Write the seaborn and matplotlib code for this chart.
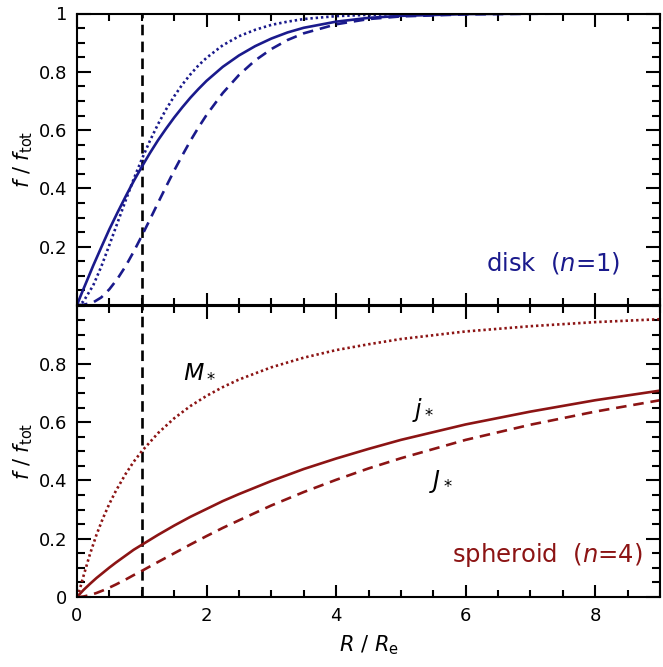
import matplotlib
matplotlib.use("Agg")
import matplotlib.pyplot as plt
import seaborn as sns
import pandas as pd
from matplotlib.ticker import MultipleLocator

# Cumulative fractions inside radius R / R_e for an exponential disk (n = 1)
radius_disk = [0, 0.05, 0.1, 0.25, 0.375, 0.5, 0.625, 0.75, 0.875, 1,
               1.125, 1.25, 1.375, 1.5, 1.625, 1.75, 1.875, 2,
               2.25, 2.5, 2.75, 3, 3.25, 3.5, 4, 4.5, 5, 6, 7, 8, 9]
mass_disk = [0, 0.0033, 0.0126, 0.067, 0.132, 0.206, 0.282, 0.358, 0.432, 0.500,
             0.563, 0.620, 0.671, 0.716, 0.756, 0.791, 0.822, 0.848,
             0.891, 0.922, 0.944, 0.961, 0.972, 0.981, 0.991, 0.9955, 0.998, 0.9995, 1.0, 1.0, 1.0]
spec_am_disk = [0, 0.028, 0.055, 0.135, 0.198, 0.260, 0.317, 0.372, 0.425, 0.474,
                0.521, 0.565, 0.605, 0.643, 0.678, 0.711, 0.741, 0.769,
                0.817, 0.856, 0.888, 0.914, 0.935, 0.951, 0.972, 0.985, 0.992, 0.998, 0.9995, 1.0, 1.0]
tot_am_disk = [0, 0.0001, 0.0007, 0.009, 0.026, 0.054, 0.090, 0.133, 0.183, 0.237,
               0.293, 0.350, 0.406, 0.461, 0.513, 0.563, 0.609, 0.652,
               0.727, 0.789, 0.839, 0.878, 0.909, 0.932, 0.963, 0.981, 0.990, 0.997, 0.999, 1.0, 1.0]

# Same quantities for a de Vaucouleurs spheroid (n = 4)
radius_sph = [0, 0.02, 0.05, 0.1, 0.2, 0.3, 0.4, 0.5, 0.6, 0.75,
              0.875, 1, 1.25, 1.5, 1.75, 2, 2.25, 2.5, 3, 3.5,
              4, 4.5, 5, 6, 7, 8, 9]
mass_sph = [0, 0.010, 0.032, 0.072, 0.147, 0.213, 0.270, 0.320, 0.364, 0.422,
            0.464, 0.500, 0.562, 0.613, 0.655, 0.690, 0.720, 0.746, 0.788, 0.821,
            0.847, 0.867, 0.885, 0.911, 0.929, 0.943, 0.953]
spec_am_sph = [0, 0.005, 0.012, 0.024, 0.045, 0.065, 0.083, 0.101, 0.118, 0.142,
               0.162, 0.179, 0.213, 0.245, 0.275, 0.302, 0.329, 0.353, 0.398, 0.439,
               0.475, 0.508, 0.539, 0.592, 0.636, 0.675, 0.708]
tot_am_sph = [0, 0.00005, 0.0004, 0.0017, 0.0066, 0.0137, 0.0224, 0.0322, 0.0428, 0.0598,
              0.0751, 0.0895, 0.120, 0.150, 0.180, 0.209, 0.237, 0.263, 0.314, 0.360,
              0.402, 0.441, 0.476, 0.539, 0.591, 0.636, 0.675]

x_ticks = [0, 2, 4, 6, 8]
top_yticks = [0.2, 0.4, 0.6, 0.8, 1.0]
top_ylabels = ["0.2", "0.4", "0.6", "0.8", "1"]
bot_yticks = [0, 0.2, 0.4, 0.6, 0.8]
bot_ylabels = ["0", "0.2", "0.4", "0.6", "0.8"]

disk = pd.DataFrame({"R": radius_disk, "M": mass_disk, "j": spec_am_disk, "J": tot_am_disk})
sph = pd.DataFrame({"R": radius_sph, "M": mass_sph, "j": spec_am_sph, "J": tot_am_sph})

BLUE = "#1a1a8c"
RED = "#8c1414"

sns.set_style("ticks")
plt.rcParams.update({
    "font.family": ["DejaVu Sans"],
    "mathtext.fontset": "dejavusans",
    "text.color": "black",
    "axes.labelcolor": "black",
    "xtick.color": "black",
    "ytick.color": "black",
    "axes.linewidth": 1.5,
    "xtick.direction": "in",
    "ytick.direction": "in",
    "xtick.major.size": 9,
    "xtick.minor.size": 5,
    "ytick.major.size": 10,
    "ytick.minor.size": 5.5,
    "xtick.major.width": 1.5,
    "xtick.minor.width": 1.5,
    "ytick.major.width": 1.5,
    "ytick.minor.width": 1.5,
    "axes.edgecolor": "black",
})

W, H = 663, 667
fig = plt.figure(figsize=(W / 100, H / 100), dpi=100)
left, right = 77, 660
ax_top = fig.add_axes([left / W, 1 - 305 / H, (right - left) / W, 291.5 / H])
ax_bot = fig.add_axes([left / W, 1 - 597 / H, (right - left) / W, 291.5 / H])

lw = 1.9
styles = {
    "M": dict(linestyle=(0, (0.9, 1.1))),
    "j": dict(linestyle="-"),
    "J": dict(linestyle=(0, (4.0, 2.6))),
}

for ax, df, col in [(ax_top, disk, BLUE), (ax_bot, sph, RED)]:
    for key in ["M", "j", "J"]:
        sns.lineplot(data=df, x="R", y=key, ax=ax, color=col, lw=lw,
                     sort=False, errorbar=None, **styles[key])
    ax.axvline(1, color="black", lw=1.9, linestyle=(0, (4.0, 2.4)), zorder=1)
    ax.set_xlim(0, 9)
    ax.set_ylim(0, 1)
    ax.xaxis.set_major_locator(MultipleLocator(2))
    ax.xaxis.set_minor_locator(MultipleLocator(0.5))
    ax.yaxis.set_minor_locator(MultipleLocator(0.05))
    ax.tick_params(which="both", top=True, right=True, labelsize=13, pad=7)
    ax.set_ylabel(r"$f\ /\ f_{\rm tot}$", fontsize=15, labelpad=3)
    for s in ax.spines.values():
        s.set_visible(True)

ax_top.set_yticks(top_yticks)
ax_top.set_yticklabels(top_ylabels)
ax_top.tick_params(labelbottom=False)
ax_top.set_xlabel("")

ax_bot.set_yticks(bot_yticks)
ax_bot.set_yticklabels(bot_ylabels)
ax_bot.set_xticks(x_ticks)
ax_bot.set_xticklabels([str(v) for v in x_ticks])
ax_bot.set_xlabel(r"$R\ /\ R_{\rm e}$", fontsize=15, labelpad=6)
ax_bot.yaxis.set_minor_locator(MultipleLocator(0.05))

ax_top.text(8.38, 0.145, r"disk  ($n$=1)", color=BLUE, fontsize=17.5,
            ha="right", va="center")
ax_bot.text(8.73, 0.145, r"spheroid  ($n$=4)", color=RED, fontsize=17.5,
            ha="right", va="center")
ax_bot.text(1.63, 0.78, r"$M_*$", fontsize=17, ha="left", va="center")
ax_bot.text(5.17, 0.64, r"$j_*$", fontsize=17, ha="left", va="center")
ax_bot.text(5.43, 0.395, r"$J_*$", fontsize=17, ha="left", va="center")

fig.savefig("out.png", dpi=100)
